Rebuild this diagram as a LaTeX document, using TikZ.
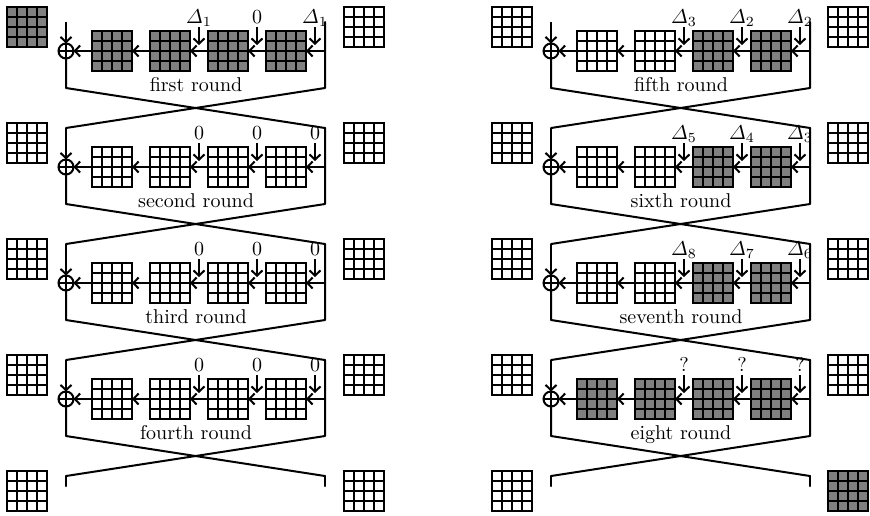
\documentclass[tikz,border=0pt]{standalone}
\usepackage{amsmath}
\usetikzlibrary{arrows.meta,calc}
\begin{document}
\begin{tikzpicture}[x=0.5pt,y=-0.5pt,
  ln/.style={line width=1pt,line cap=round,line join=round},
  arr/.style={line width=1pt,-{Straight Barb[length=2.6pt,width=5.5pt]}},
  gridlines/.style={line width=0.6pt},
  wblk/.style={draw,line width=0.6pt,fill=white,minimum size=20pt,inner sep=0pt,outer sep=0pt,
    path picture={
      \foreach \i in {1,2,3}{
        \draw[gridlines] ([xshift=\i*5pt]path picture bounding box.south west) -- ([xshift=\i*5pt]path picture bounding box.north west);
        \draw[gridlines] ([yshift=\i*5pt]path picture bounding box.south west) -- ([yshift=\i*5pt]path picture bounding box.south east);
      }}},
  gblk/.style={wblk,fill={rgb,255:red,128;green,128;blue,128}},
  xor/.style={circle,draw,line width=1pt,minimum size=7.5pt,inner sep=0pt,outer sep=0pt,
    path picture={
      \draw[line width=1pt] (path picture bounding box.north) -- (path picture bounding box.south);
      \draw[line width=1pt] (path picture bounding box.west) -- (path picture bounding box.east);}},
  lbl/.style={anchor=base,inner sep=0pt},
  rtxt/.style={anchor=base,inner sep=0pt}
]
\useasboundingbox (0,0) rectangle (870,515);

% outer matrices
\foreach \k/\sa/\sb/\sc/\sd in {0/gblk/wblk/wblk/wblk,1/wblk/wblk/wblk/wblk,2/wblk/wblk/wblk/wblk,3/wblk/wblk/wblk/wblk,4/wblk/wblk/wblk/gblk}{
  \node[\sa] (m1-\k) at (27,27+116*\k) {};
  \node[\sb] (m2-\k) at (364,27+116*\k) {};
  \node[\sc] (m3-\k) at (512,27+116*\k) {};
  \node[\sd] (m4-\k) at (848,27+116*\k) {};
}

% skeleton coordinates
\foreach \p/\ox in {A/0,B/485}{
  \coordinate (\p-TL0) at (66+\ox,22);
  \coordinate (\p-TR0) at (325+\ox,22);
  \foreach \k in {1,...,4}{
    \coordinate (\p-TL\k) at (66+\ox,12+116*\k);
    \coordinate (\p-TR\k) at (325+\ox,12+116*\k);
  }
  \foreach \k in {0,...,3}{
    \coordinate (\p-BL\k) at (66+\ox,88+116*\k);
    \coordinate (\p-BR\k) at (325+\ox,88+116*\k);
    \coordinate (\p-H\k) at (325+\ox,51+116*\k);
    \node[xor] (\p-X\k) at (66+\ox,51+116*\k) {};
  }
  \coordinate (\p-EL) at (66+\ox,486);
  \coordinate (\p-ER) at (325+\ox,486);
  \draw[ln] (\p-TL4) -- (\p-EL);
  \draw[ln] (\p-TR4) -- (\p-ER);
}

% rounds
\foreach \p/\ox/\k/\sa/\sb/\sc/\sd/\la/\lb/\lc/\txt in {
  A/0/0/gblk/gblk/gblk/gblk/{$\varDelta_1$}/{$0$}/{$\varDelta_1$}/{first round},
  A/0/1/wblk/wblk/wblk/wblk/{$0$}/{$0$}/{$0$}/{second round},
  A/0/2/wblk/wblk/wblk/wblk/{$0$}/{$0$}/{$0$}/{third round},
  A/0/3/wblk/wblk/wblk/wblk/{$0$}/{$0$}/{$0$}/{fourth round},
  B/485/0/wblk/wblk/gblk/gblk/{$\varDelta_3$}/{$\varDelta_2$}/{$\varDelta_2$}/{fifth round},
  B/485/1/wblk/wblk/gblk/gblk/{$\varDelta_5$}/{$\varDelta_4$}/{$\varDelta_3$}/{sixth round},
  B/485/2/wblk/wblk/gblk/gblk/{$\varDelta_8$}/{$\varDelta_7$}/{$\varDelta_6$}/{seventh round},
  B/485/3/gblk/gblk/gblk/gblk/{?}/{?}/{?}/{eight round}}{
  \pgfmathtruncatemacro\nk{\k+1}
  \pgfmathsetmacro\oy{116*\k}
  \node[\sa] (\p\k b1) at (112+\ox,51+\oy) {};
  \node[\sb] (\p\k b2) at (170+\ox,51+\oy) {};
  \node[\sc] (\p\k b3) at (228+\ox,51+\oy) {};
  \node[\sd] (\p\k b4) at (286+\ox,51+\oy) {};
  \draw[arr] (\p-TL\k) -- (\p-X\k.north);
  \draw[ln] (\p-X\k.south) -- (\p-BL\k) -- (\p-TR\nk);
  \draw[ln] (\p-TR\k) -- (\p-BR\k) -- (\p-TL\nk);
  \draw[arr] (\p-H\k) -- (\p\k b4.east);
  \draw[arr] (\p\k b4.west) -- (\p\k b3.east);
  \draw[arr] (\p\k b3.west) -- (\p\k b2.east);
  \draw[arr] (\p\k b2.west) -- (\p\k b1.east);
  \draw[arr] (\p\k b1.west) -- (\p-X\k.east);
  \node[lbl] (\p\k l1) at (199+\ox,23+\oy) {\la};
  \node[lbl] (\p\k l2) at (257+\ox,23+\oy) {\lb};
  \node[lbl] (\p\k l3) at (315+\ox,23+\oy) {\lc};
  \coordinate (\p\k a1) at (199+\ox,27+\oy);
  \coordinate (\p\k a2) at (257+\ox,27+\oy);
  \coordinate (\p\k a3) at (315+\ox,27+\oy);
  \foreach \j in {1,2,3}{
    \draw[arr,shorten >=3pt] (\p\k a\j) -- (\p\k a\j |- \p-H\k);
  }
  \node[rtxt] (\p\k t) at (196+\ox,91+\oy) {\txt};
}
\end{tikzpicture}
\end{document}
